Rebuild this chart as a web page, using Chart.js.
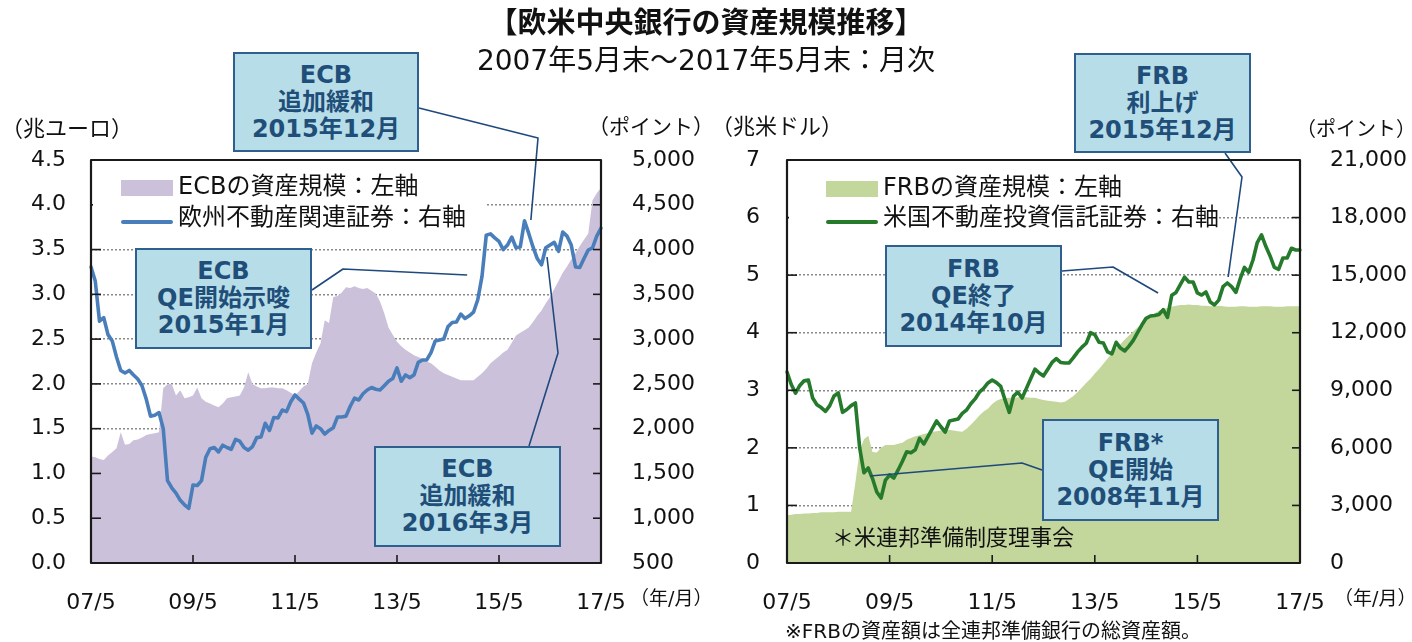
<!DOCTYPE html>
<html><head><meta charset="utf-8">
<script src="https://cdn.jsdelivr.net/npm/chart.js@4.4.1/dist/chart.umd.min.js"></script>
<style>
body{margin:0;width:1412px;height:642px;overflow:hidden;background:#fff;position:relative;font-family:"DejaVu Sans","Noto Sans CJK JP",sans-serif;color:#111;}
canvas{position:absolute;top:0;}
.t{position:absolute;white-space:nowrap;}
.box{position:absolute;background:#b7dde8;border:2px solid #2f5f8f;color:#1f4e79;font-weight:bold;font-size:24px;line-height:27px;text-align:center;box-sizing:border-box;display:flex;flex-direction:column;justify-content:center;}
.leg{position:absolute;background:#fff;}
.sw{position:absolute;}
</style></head>
<body>
<canvas id="c1" width="706" height="642" style="left:0"></canvas>
<canvas id="c2" width="706" height="642" style="left:706px"></canvas>

<div class="t" style="left:0;top:7px;width:1412px;text-align:center;font-size:29px;line-height:32px;font-weight:bold;">【欧米中央銀行の資産規模推移】</div>
<div class="t" style="left:0;top:46px;width:1412px;text-align:center;font-size:28px;line-height:30px;">2007年5月末～2017年5月末：月次</div>

<div class="t" style="left:1px;top:116px;font-size:22px;line-height:26px;">（兆ユーロ）</div>
<div class="t" style="left:588px;top:114px;font-size:21px;line-height:26px;">（ポイント）</div>
<div class="t" style="left:711px;top:114px;font-size:22px;line-height:26px;">（兆米ドル）</div>
<div class="t" style="left:1296px;top:116px;font-size:20px;line-height:26px;">（ポイント）</div>
<div class="t" style="left:630px;top:586px;font-size:19px;line-height:24px;">（年/月）</div>
<div class="t" style="left:1334px;top:586px;font-size:19px;line-height:24px;">（年/月）</div>
<div class="t" style="left:832px;top:525px;font-size:22px;line-height:26px;">＊米連邦準備制度理事会</div>
<div class="t" style="left:785px;top:619px;font-size:20px;line-height:24px;">※FRBの資産額は全連邦準備銀行の総資産額。</div>

<div class="leg" style="left:93px;top:162px;width:393px;height:68px;"></div>
<div class="sw" style="left:121px;top:180px;width:52px;height:16px;background:#ccc1da;"></div>
<div class="t" style="left:178px;top:171px;font-size:24px;line-height:30px;">ECBの資産規模：左軸</div>
<div class="sw" style="left:121px;top:220px;width:52px;height:4px;border-radius:2px;background:#4a7ebb;"></div>
<div class="t" style="left:178px;top:202px;font-size:24px;line-height:30px;">欧州不動産関連証券：右軸</div>

<div class="leg" style="left:789px;top:163px;width:425px;height:68px;"></div>
<div class="sw" style="left:826px;top:181px;width:52px;height:16px;background:#c3d69b;"></div>
<div class="t" style="left:883px;top:172px;font-size:24px;line-height:30px;">FRBの資産規模：左軸</div>
<div class="sw" style="left:826px;top:220px;width:52px;height:4px;border-radius:2px;background:#267a2c;"></div>
<div class="t" style="left:883px;top:202px;font-size:24px;line-height:30px;">米国不動産投資信託証券：右軸</div>

<div class="box" style="left:233px;top:52px;width:186px;height:100px;"><div>ECB</div><div>追加緩和</div><div>2015年12月</div></div>
<div class="box" style="left:135px;top:248px;width:177px;height:101px;"><div>ECB</div><div>QE開始示唆</div><div>2015年1月</div></div>
<div class="box" style="left:374px;top:446px;width:187px;height:101px;"><div>ECB</div><div>追加緩和</div><div>2016年3月</div></div>
<div class="box" style="left:1074px;top:53px;width:177px;height:100px;"><div>FRB</div><div>利上げ</div><div>2015年12月</div></div>
<div class="box" style="left:885px;top:245px;width:177px;height:102px;"><div>FRB</div><div>QE終了</div><div>2014年10月</div></div>
<div class="box" style="left:1042px;top:419px;width:177px;height:102px;"><div>FRB*</div><div>QE開始</div><div>2008年11月</div></div>

<script>
// ---- data (monthly, 2007/5 .. 2017/5) ----
const months = [];
for (let k = 0; k <= 120; k++) { const m = (4 + k) % 12 + 1, y = 2007 + Math.floor((4 + k) / 12); months.push(String(y % 100).padStart(2, '0') + '/' + m); }
const tickLabels = ['07/5', '09/5', '11/5', '13/5', '15/5', '17/5'];

// ECB total assets (trillion EUR, left axis)
const ecbAssets = [
 1.19,1.18,1.16,1.15,1.20,1.24,1.28,1.46,1.32,1.33,
 1.37,1.38,1.40,1.43,1.44,1.45,1.46,1.95,2.00,2.00,
 1.87,1.93,1.84,1.85,1.87,1.96,1.84,1.80,1.78,1.76,
 1.74,1.78,1.84,1.85,1.86,1.87,1.96,2.13,2.00,1.97,
 1.95,1.95,1.96,1.96,1.95,1.95,1.93,1.90,1.87,1.92,
 1.97,2.00,2.23,2.35,2.45,2.71,2.68,2.97,2.98,3.02,
 3.08,3.07,3.09,3.07,3.06,3.07,3.04,3.01,2.92,2.79,
 2.63,2.55,2.47,2.42,2.38,2.35,2.32,2.30,2.28,2.25,
 2.23,2.19,2.15,2.12,2.10,2.08,2.06,2.04,2.04,2.04,
 2.04,2.08,2.12,2.17,2.23,2.27,2.31,2.35,2.38,2.46,
 2.54,2.57,2.60,2.63,2.69,2.76,2.82,2.90,2.97,3.06,
 3.15,3.24,3.31,3.39,3.46,3.54,3.61,3.68,4.05,4.13,
 4.19];
// European real-estate securities index (points, right axis)
const ecbReit = [
 3806,3650,3200,3240,3050,2980,2800,2650,2622,2650,
 2600,2555,2480,2330,2140,2150,2180,2000,1420,1340,
 1280,1200,1150,1110,1371,1365,1420,1680,1775,1790,
 1740,1815,1790,1770,1880,1860,1790,1760,1800,1900,
 1907,2060,1980,2125,2120,2208,2190,2300,2376,2330,
 2287,2160,1950,2030,2000,1940,1980,2010,2131,2131,
 2140,2250,2340,2320,2390,2432,2460,2440,2432,2480,
 2530,2560,2678,2530,2600,2570,2600,2740,2767,2767,
 2850,2980,2990,3000,3140,3185,3192,3280,3230,3260,
 3300,3440,3700,4160,4175,4130,4090,4000,4050,4140,
 4020,4029,4320,4180,4029,3900,3830,4020,4050,4080,
 3980,4196,4150,4050,3806,3800,3900,3995,4018,4150,
 4240];
// FRB total assets (trillion USD, left axis)
const frbAssets = [
 0.83,0.84,0.85,0.85,0.86,0.86,0.87,0.87,0.88,0.88,
 0.88,0.88,0.89,0.89,0.89,0.89,1.40,1.96,2.15,2.21,
 1.93,1.92,2.00,2.05,2.05,2.05,2.07,2.09,2.14,2.17,
 2.20,2.22,2.24,2.26,2.28,2.29,2.30,2.31,2.31,2.30,
 2.29,2.28,2.33,2.40,2.48,2.56,2.63,2.68,2.76,2.82,
 2.85,2.86,2.87,2.87,2.88,2.88,2.88,2.87,2.87,2.85,
 2.83,2.82,2.81,2.80,2.79,2.80,2.85,2.90,2.97,3.05,
 3.13,3.20,3.29,3.37,3.46,3.55,3.64,3.73,3.80,3.88,
 3.95,4.02,4.09,4.16,4.23,4.29,4.34,4.38,4.41,4.43,
 4.45,4.47,4.48,4.48,4.49,4.48,4.48,4.47,4.47,4.46,
 4.46,4.47,4.46,4.45,4.45,4.45,4.46,4.46,4.45,4.45,
 4.45,4.46,4.46,4.46,4.45,4.45,4.45,4.46,4.46,4.46,
 4.46];
// US REIT index (points, right axis)
const frbReit = [
 9953,9300,8850,9250,9500,9536,8600,8250,8100,7900,
 8200,8700,8860,7850,8000,8200,8338,6000,4700,4950,
 4400,3700,3387,4300,4586,4429,4850,5300,5800,5750,
 5900,6500,6200,6600,7000,7400,7100,6826,7400,7452,
 7500,7800,7973,8300,8550,8900,9100,9380,9536,9400,
 9200,8500,7850,8700,8900,8598,9100,9600,10100,9900,
 9750,10100,10450,10650,10450,10422,10422,10700,11000,11250,
 11450,12000,11900,11500,11464,11000,10900,11500,11200,11050,
 11300,11600,12000,12400,12750,12870,12900,12950,13200,12800,
 13950,14100,14500,14900,14643,14643,14070,13965,14122,13600,
 13450,13700,14400,14591,14400,14100,14800,15400,15150,15789,
 16700,17100,16500,16000,15400,15300,15893,15893,16400,16311,
 16311];

// annotation connectors: leader points (page px) then data anchor [index, value on right axis]
const ecbNotes = [
 { path: [[419,108],[538,138]], at: [103.5, 4330] },
 { path: [[312,290],[343,269]], at: [88.5, 3716] },
 { path: [[529,446],[558,353]], at: [107.3, 3917] }
];
const frbNotes = [
 { path: [[1225,153],[1242,177]], at: [103.2, 14903] },
 { path: [[1062,271],[1113,267]], at: [86.8, 14070] },
 { path: [[1042,470],[1022,463]], at: [19.4, 4534] }
];

Chart.defaults.font.family = '"DejaVu Sans","Noto Sans CJK JP",sans-serif';
Chart.defaults.font.size = 22;
Chart.defaults.color = '#111';

function overlay(notes, offset) {
  return {
    id: 'overlay',
    afterDatasetsDraw(chart) {
      const ctx = chart.ctx, a = chart.chartArea, sx = chart.scales.x, sy = chart.scales.y, sy1 = chart.scales.y1;
      ctx.save();
      ctx.strokeStyle = '#1f497d'; ctx.lineWidth = 1.6; ctx.lineJoin = 'round';
      notes.forEach(n => {
        ctx.beginPath();
        n.path.forEach((p, k) => { const x = p[0] - offset; k ? ctx.lineTo(x, p[1]) : ctx.moveTo(x, p[1]); });
        ctx.lineTo(sx.getPixelForValue(n.at[0]), sy1.getPixelForValue(n.at[1]));
        ctx.stroke();
      });
      ctx.strokeStyle = '#1a1a1a'; ctx.lineWidth = 1.6;
      sy.ticks.forEach(t => { const y = sy.getPixelForValue(t.value); ctx.beginPath(); ctx.moveTo(a.left, y); ctx.lineTo(a.left + 10, y); ctx.stroke(); });
      sy1.ticks.forEach(t => { const y = sy1.getPixelForValue(t.value); ctx.beginPath(); ctx.moveTo(a.right, y); ctx.lineTo(a.right - 8, y); ctx.stroke(); });
      for (let i = 24; i < months.length - 1; i += 24) { const x = sx.getPixelForValue(i); ctx.beginPath(); ctx.moveTo(x, a.bottom); ctx.lineTo(x, a.bottom - 8); ctx.stroke(); }
      ctx.lineWidth = 2.2;
      ctx.strokeRect(a.left, a.top, a.right - a.left, a.bottom - a.top);
      ctx.restore();
    }
  };
}

function build(id, area, line, areaColor, lineColor, yCfg, y1Cfg, widths, notes, offset) {
  new Chart(document.getElementById(id), {
    type: 'line',
    data: {
      labels: months,
      datasets: [
        { data: line, yAxisID: 'y1', borderColor: lineColor, borderWidth: 3.6, pointRadius: 0, fill: false, tension: 0, borderJoinStyle: 'round', borderCapStyle: 'round', order: 1 },
        { data: area, yAxisID: 'y', borderColor: 'rgba(0,0,0,0)', borderWidth: 1, backgroundColor: areaColor, pointRadius: 0, fill: 'origin', tension: 0, order: 2 }
      ]
    },
    options: {
      responsive: false, animation: false, devicePixelRatio: 1,
      layout: { padding: { top: 160, left: 0, right: 0, bottom: 0 } },
      plugins: { legend: { display: false }, tooltip: { enabled: false } },
      scales: {
        x: {
          grid: { display: false }, border: { display: false },
          ticks: { autoSkip: false, maxRotation: 0, minRotation: 0, padding: 19, callback: (v, i) => (i % 24 === 0 ? tickLabels[i / 24] : null) },
          afterFit: s => { s.height = 79; }
        },
        y: {
          position: 'left', min: yCfg.min, max: yCfg.max,
          grid: { color: '#8a8a8a', lineWidth: 1.5, drawTicks: false }, border: { display: false, dash: [2, 2] },
          ticks: { stepSize: yCfg.step, padding: widths.lp, callback: yCfg.fmt },
          afterFit: s => { s.width = widths.left; }
        },
        y1: {
          position: 'right', min: y1Cfg.min, max: y1Cfg.max,
          grid: { display: false, drawTicks: false }, border: { display: false },
          ticks: { stepSize: y1Cfg.step, padding: widths.rp, callback: v => v.toLocaleString('en-US') },
          afterFit: s => { s.width = widths.right; }
        }
      }
    },
    plugins: [overlay(notes, offset)]
  });
}

build('c1', ecbAssets, ecbReit, '#ccc1da', '#4a7ebb',
  { min: 0, max: 4.5, step: 0.5, fmt: v => v.toFixed(1) },
  { min: 500, max: 5000, step: 500 },
  { left: 91, right: 105, lp: 25, rp: 31 }, ecbNotes, 0);

build('c2', frbAssets, frbReit, '#c3d69b', '#267a2c',
  { min: 0, max: 7, step: 1, fmt: v => String(v) },
  { min: 0, max: 21000, step: 3000 },
  { left: 81, right: 112, lp: 27, rp: 30 }, frbNotes, 706);
</script>
</body></html>
